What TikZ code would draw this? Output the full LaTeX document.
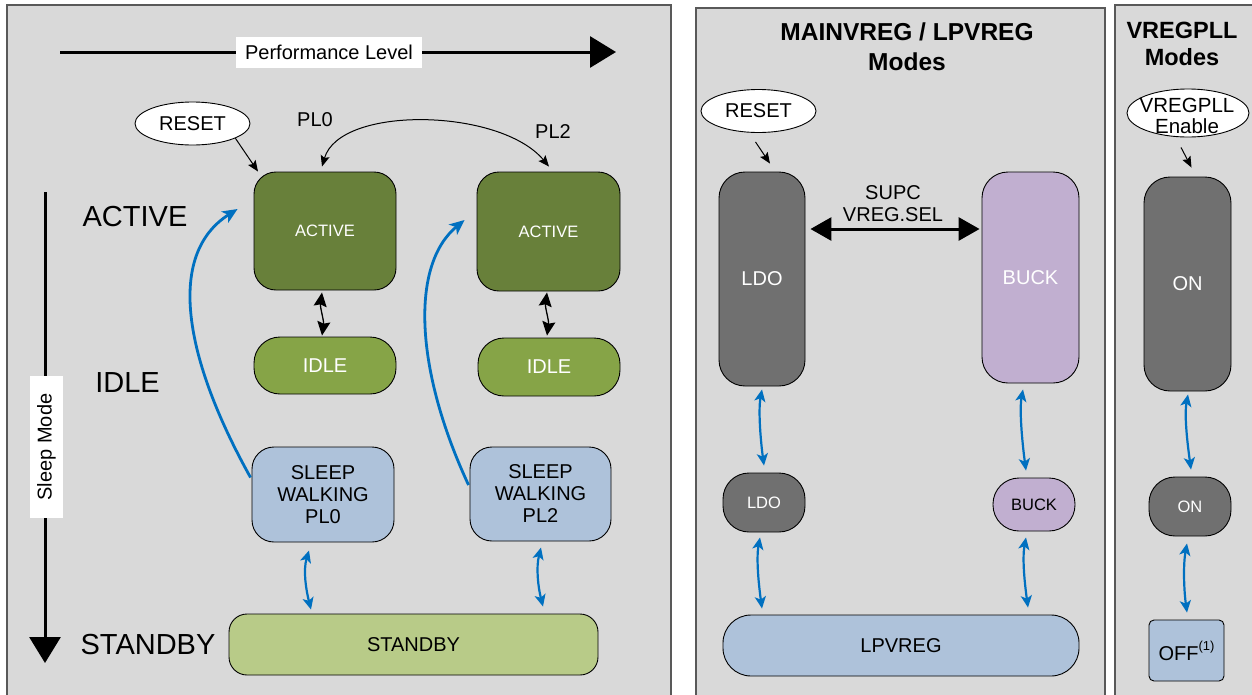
\documentclass[tikz,border=0pt]{standalone}
\usepackage{fontspec}
\setmainfont{Liberation Sans}
\usetikzlibrary{arrows.meta,shapes.geometric,calc}
\definecolor{panelbg}{HTML}{D9D9D9}
\definecolor{panelln}{HTML}{595959}
\definecolor{actg}{HTML}{68803A}
\definecolor{idleg}{HTML}{86A447}
\definecolor{sleepb}{HTML}{AEC2DA}
\definecolor{stbyg}{HTML}{B8CB88}
\definecolor{ldog}{HTML}{707070}
\definecolor{buckv}{HTML}{C1AFD0}
\definecolor{arrblue}{HTML}{0070C0}
\begin{document}
\begin{tikzpicture}[x=1pt,y=-1pt,
  panel/.style={draw=panelln, line width=1.5pt, fill=panelbg},
  box/.style={draw=black, line width=0.9pt, inner sep=0pt, align=center},
  lab/.style={font=\fontsize{20}{22}\selectfont},
  biglab/.style={font=\fontsize{29}{32}\selectfont},
  smlab/.style={font=\fontsize{16.5}{18}\selectfont},
  ttl/.style={align=center},
  bluearr/.style={draw=arrblue, line width=2.8pt, -{Stealth[length=15pt,width=13pt,inset=4pt]}},
  bidir/.style={draw=arrblue, line width=2.2pt, {Stealth[length=12pt,width=11pt,inset=3pt]}-{Stealth[length=12pt,width=11pt,inset=3pt]}},
  tarr/.style={line width=1pt, -{Stealth[length=11pt,width=9pt,inset=2pt]}},
  tboth/.style={line width=1pt, {Stealth[length=11pt,width=9pt,inset=2pt]}-{Stealth[length=11pt,width=9pt,inset=2pt]}},
  kboth/.style={line width=1.3pt, {Stealth[length=14pt,width=13pt,inset=2pt]}-{Stealth[length=14pt,width=13pt,inset=2pt]}},
  heavyboth/.style={line width=3pt, {Triangle[length=21pt,width=23pt]}-{Triangle[length=21pt,width=23pt]}},
  axis/.style={line width=3pt, -{Triangle[length=26pt,width=31pt]}}
]
\useasboundingbox (0,0) rectangle (1252,694);
\clip (0,0) rectangle (1252,694);
\fill[white] (0,0) rectangle (1252,694);
% panels
\draw[panel] (7,5) rectangle (671,720);
\draw[panel] (696,8) rectangle (1105,720);
\draw[panel] (1115,5) rectangle (1270,720);

% ---------- left panel ----------
\coordinate (pfs) at (60,52);
\coordinate (pfe) at (616,52);
\draw[axis] (pfs) -- (pfe);
\node[fill=white, inner sep=0pt, minimum width=186pt, minimum height=31pt, lab] (perf) at (329,52.5) {Performance Level};

\coordinate (sls) at (45,192);
\coordinate (sle) at (45,663);
\draw[axis] (sls) -- (sle);
\node[fill=white, inner sep=0pt, rotate=90, minimum width=142pt, minimum height=33pt, lab] (slp) at (46.5,447) {Sleep Mode};

\node[biglab] (lact) at (135,217) {ACTIVE};
\node[biglab] (lidle) at (127.5,383) {IDLE};
\node[biglab] (lstby) at (148,644.5) {STANDBY};

\node[ellipse, draw=black, line width=0.9pt, fill=white, inner sep=0pt, minimum width=115pt, minimum height=43pt, lab] (reset1) at (192.5,123.5) {RESET};
\node[lab] (pl0) at (315,120) {PL0};
\node[lab] (pl2) at (553,132) {PL2};

\node[box, fill=actg, rounded corners=22pt, minimum width=142pt, minimum height=118pt, text=white, smlab] (act1) at (325,231) {ACTIVE};
\node[box, fill=actg, rounded corners=22pt, minimum width=143pt, minimum height=119pt, text=white, smlab] (act2) at (548.5,231.5) {ACTIVE};
\node[box, fill=idleg, rounded corners=26pt, minimum width=142pt, minimum height=57pt, text=white, lab] (idle1) at (325,365.5) {IDLE};
\node[box, fill=idleg, rounded corners=26pt, minimum width=142pt, minimum height=58pt, text=white, lab] (idle2) at (549,367) {IDLE};
\node[box, fill=sleepb, rounded corners=22pt, minimum width=142pt, minimum height=95pt, lab] (sw1) at (323,494.5) {SLEEP\\WALKING\\PL0};
\node[box, fill=sleepb, rounded corners=22pt, minimum width=141pt, minimum height=94pt, lab] (sw2) at (540.5,494) {SLEEP\\WALKING\\PL2};
\node[box, fill=stbyg, rounded corners=18pt, minimum width=369pt, minimum height=61pt, lab] (stby) at (413.5,644.5) {STANDBY};

\draw[tarr] (reset1.-19) -- ($(act1.north)+(-67,0)$);
\draw[tboth] ($(act1.north)+(-3,-5)$) .. controls (340,105) and (500,108) .. ($(act2.north)+(0.5,-5)$);
\draw[kboth] ($(act1.south)+(-3,2)$) .. controls +(-2,15) and +(2,-15) .. ($(idle1.north)+(-3,-1)$);
\draw[kboth] ($(act2.south)+(-1.5,1)$) .. controls +(-2,15) and +(2,-15) .. ($(idle2.north)+(-2,-2)$);

\draw[bluearr] ($(sw1.west)+(-1,-17)$) .. controls (185,360) and (165,255) .. ($(act1.west)+(-16,-22)$);
\draw[bluearr] ($(sw2.west)+(-1,-9)$) .. controls (415,370) and (410,265) .. ($(act2.west)+(-12,-11.5)$);

\draw[bidir] ($(sw1.south)+(-14,8)$) .. controls +(-6,20) and +(-5,-20) .. ($(stby.north)+(-102.5,-4)$);
\draw[bidir] ($(sw2.south)+(0.5,6)$) .. controls +(-5,20) and +(-5,-20) .. ($(stby.north)+(129.5,-7)$);

% ---------- middle panel ----------
\node[ttl, font=\bfseries\fontsize{24.5}{30}\selectfont] (t1) at (907,47) {MAINVREG / LPVREG\\Modes};
\node[ellipse, draw=black, line width=0.9pt, fill=white, inner sep=0pt, minimum width=115pt, minimum height=43pt, lab] (reset2) at (758.5,111) {RESET};
\node[box, fill=ldog, rounded corners=26pt, minimum width=86pt, minimum height=214pt, text=white, lab] (ldoB) at (762,279) {LDO};
\node[box, fill=buckv, rounded corners=26pt, minimum width=97pt, minimum height=211pt, text=white, lab] (buckB) at (1030.5,277.5) {BUCK};
\node[box, fill=ldog, rounded corners=26pt, minimum width=82pt, minimum height=59pt, text=white, smlab] (ldoS) at (764,502.5) {LDO};
\node[box, fill=buckv, rounded corners=26pt, minimum width=82pt, minimum height=53pt, smlab] (buckS) at (1034,504.5) {BUCK};
\node[box, fill=sleepb, rounded corners=28pt, minimum width=356pt, minimum height=61pt, lab] (lpv) at (901,645.5) {LPVREG};
\node[align=center, font=\fontsize{20}{22}\selectfont] (supc) at (893,204) {SUPC\\VREG.SEL};

\draw[tarr] ($(reset2.south)+(-3,9)$) -- ($(ldoB.north)+(8,-8)$);
\draw[heavyboth] ($(ldoB.east)+(5,-50)$) -- ($(buckB.west)+(-2,-48.5)$);
\draw[bidir] ($(ldoB.south)+(0,3)$) .. controls +(-4,22) and +(-3,-22) .. ($(ldoS.north)+(0,-7)$);
\draw[bidir] ($(ldoS.south)+(-4,5)$) .. controls +(-4,22) and +(-3,-22) .. ($(lpv.north)+(-139,-6)$);
\draw[bidir] ($(buckB.south)+(-7.5,6)$) .. controls +(-4,22) and +(-3,-22) .. ($(buckS.north)+(-8,-7)$);
\draw[bidir] ($(buckS.south)+(-8,6)$) .. controls +(-4,22) and +(-3,-22) .. ($(lpv.north)+(127,-7)$);

% ---------- right panel ----------
\node[ttl, font=\bfseries\fontsize{23.5}{27}\selectfont] (t2) at (1182,44) {VREGPLL\\Modes};
\node[ellipse, draw=black, line width=0.9pt, fill=white, inner sep=0pt, minimum width=122pt, minimum height=48pt] (vpll) at (1188,113) {};
\node[align=center, font=\fontsize{20.5}{21}\selectfont] (vpllt) at (1187,116) {VREGPLL\\Enable};
\node[box, fill=ldog, rounded corners=26pt, minimum width=87pt, minimum height=214pt, text=white, lab] (onB) at (1187.5,284) {ON};
\node[box, fill=ldog, rounded corners=26pt, minimum width=82pt, minimum height=59pt, text=white, smlab] (onS) at (1190,506.5) {ON};
\node[box, fill=sleepb, rounded corners=5pt, minimum width=75pt, minimum height=61pt, lab] (off) at (1186.5,650.5) {OFF\raisebox{10pt}{\fontsize{13}{13}\selectfont(1)}};

\draw[tarr] ($(vpll.south)+(-7,10)$) -- ($(onB.north)+(4,-9)$);
\draw[bidir] ($(onB.south)+(0.5,3)$) .. controls +(-4,22) and +(-3,-22) .. ($(onS.north)+(1,-7)$);
\draw[bidir] ($(onS.south)+(-3,7)$) .. controls +(-4,22) and +(-3,-22) .. ($(off.north)+(0.5,-7)$);
\end{tikzpicture}
\end{document}
